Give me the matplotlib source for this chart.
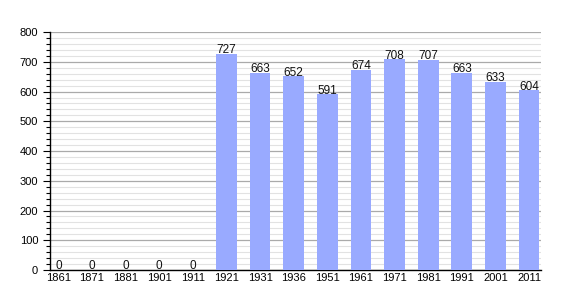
import numpy as np
import matplotlib.pyplot as plt
from matplotlib.ticker import MultipleLocator

plt.rcParams['font.family'] = ['Liberation Sans', 'DejaVu Sans']

years = ['1861', '1871', '1881', '1901', '1911', '1921', '1931', '1936',
         '1951', '1961', '1971', '1981', '1991', '2001', '2011']
population = [0, 0, 0, 0, 0, 727, 663, 652, 591, 674, 708, 707, 663, 633, 604]

fig = plt.figure(figsize=(5.7, 3.0), dpi=100)
ax = fig.add_axes([0.0877, 0.1, 0.861, 0.793])

x = np.arange(len(years))
ax.bar(x, population, width=0.62, color='#99aaff', zorder=3)

# value labels sit right on top of each bar
for xi, v in zip(x, population):
    ax.text(xi, v + 2, str(v), ha='center', va='baseline', fontsize=8.5,
            color='#111111', zorder=4)

ax.set_ylim(0, 800)
ax.set_xlim(-0.25, 14.35)
ax.yaxis.set_major_locator(MultipleLocator(100))
ax.yaxis.set_minor_locator(MultipleLocator(20))
ax.grid(axis='y', which='major', color='#aaaaaa', linewidth=0.9, zorder=1)
ax.grid(axis='y', which='minor', color='#e2e2e2', linewidth=0.8, zorder=0)

ax.set_xticks(x)
ax.set_xticklabels(years)
ax.tick_params(axis='x', length=0, labelsize=8, pad=2)
ax.tick_params(axis='y', which='major', length=5, width=0.8, labelsize=8)
ax.tick_params(axis='y', which='minor', length=3, width=0.8)

for side in ['top', 'right']:
    ax.spines[side].set_visible(False)
ax.spines['left'].set_linewidth(1.0)
ax.spines['bottom'].set_linewidth(1.0)

fig.savefig('out.png', dpi=100)
